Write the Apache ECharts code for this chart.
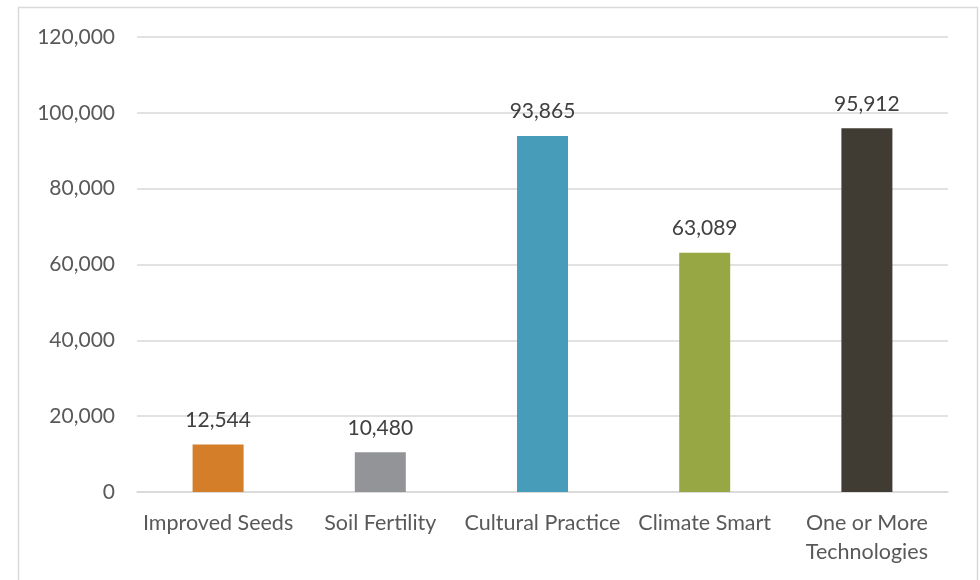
<!DOCTYPE html>
<html>
<head>
    <meta charset="utf-8">
    <script src="https://cdn.jsdelivr.net/npm/echarts@6/dist/echarts.min.js"></script>
    <style>
        html, body { margin: 0; padding: 0; background: #fff; }
    </style>
</head>
<body>
    <div id="main" style="width: 980px;height:580px"></div>

    <script type="text/javascript">
        var categories = ['Improved Seeds', 'Soil Fertility', 'Cultural Practice', 'Climate Smart', 'One or More\nTechnologies'];
        var values = [12544, 10480, 93865, 63089, 95912];
        var barColors = ['#D57E29', '#929497', '#479CB9', '#97A744', '#403B33'];

        var myChart = echarts.init(document.getElementById('main'));

        var barData = [];
        for (var i in values) {
            barData.push({ value: values[i], itemStyle: { color: barColors[i] } });
        }

        var option = {
            animation: false,
            textStyle: { fontFamily: 'Lato' },
            graphic: [{
                type: 'rect',
                shape: { x: 18.5, y: 7.5, width: 959, height: 600 },
                style: { fill: 'none', stroke: '#d9d9d9', lineWidth: 1.5 },
                silent: true
            }],
            grid: { left: 137, right: 32, top: 37, bottom: 88 },
            xAxis: {
                type: 'category',
                data: categories,
                axisLine: { lineStyle: { color: '#d9d9d9', width: 1.5 } },
                axisTick: { show: false },
                axisLabel: {
                    color: '#595959',
                    fontSize: 21.5,
                    lineHeight: 29,
                    interval: 0,
                    margin: 17
                }
            },
            yAxis: {
                type: 'value',
                min: 0,
                max: 120000,
                interval: 20000,
                axisLine: { show: false },
                axisTick: { show: false },
                splitLine: { lineStyle: { color: '#d9d9d9', width: 1.5 } },
                axisLabel: {
                    color: '#595959',
                    fontSize: 21,
                    margin: 22,
                    formatter: function (v) { return v.toLocaleString('en-US'); }
                }
            },
            series: [{
                type: 'bar',
                barWidth: 51,
                data: barData,
                label: {
                    show: true,
                    position: 'top',
                    distance: 14,
                    color: '#404040',
                    fontSize: 21,
                    formatter: function (p) { return p.value.toLocaleString('en-US'); }
                }
            }]
        };

        myChart.setOption(option);
    </script>
</body>
</html>
